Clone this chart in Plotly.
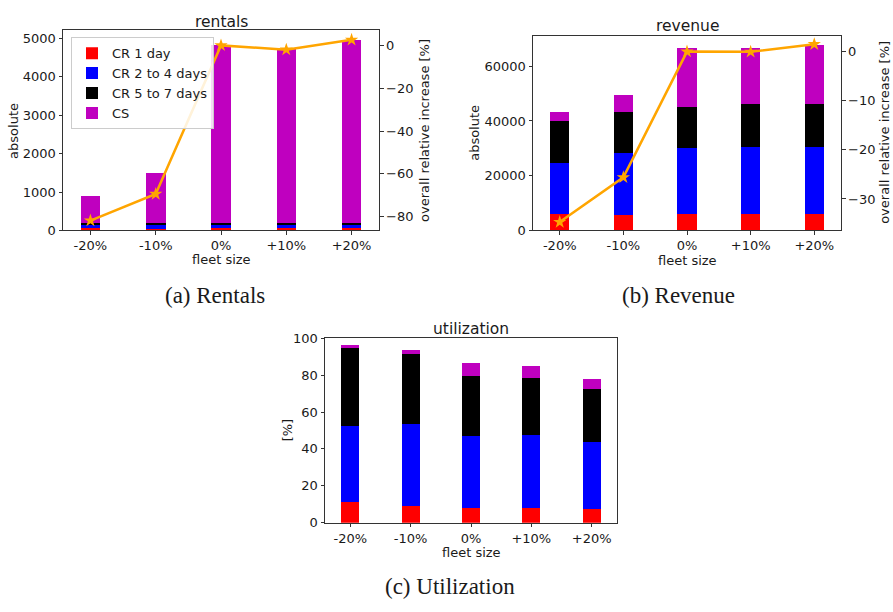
import plotly.graph_objects as go

W, H = 893, 612

categories = ["-20%", "-10%", "0%", "+10%", "+20%"]
series_names = ["CR 1 day", "CR 2 to 4 days", "CR 5 to 7 days", "CS"]
series_colors = ["#FF0000", "#0000FF", "#000000", "#BF00BF"]

# rentals (absolute)
rentals_cr1 = [40, 35, 40, 40, 40]
rentals_cr24 = [95, 100, 95, 100, 100]
rentals_cr57 = [35, 35, 35, 40, 40]
rentals_cs = [705, 1306, 4649, 4545, 4774]
rentals_rel = [-81.8, -69.4, 0.0, -2.0, 2.6]

# revenue (absolute)
revenue_cr1 = [6170, 5600, 6060, 6060, 6060]
revenue_cr24 = [18680, 22670, 24140, 24600, 24600]
revenue_cr57 = [15330, 15330, 15180, 15580, 15580]
revenue_cs = [3310, 5950, 21400, 20540, 21500]
revenue_rel = [-34.7, -25.6, 0.0, -0.05, 1.5]

# utilization [%]
util_cr1 = [10.9, 9.0, 8.1, 8.1, 7.2]
util_cr24 = [41.6, 44.4, 38.9, 39.4, 36.4]
util_cr57 = [42.0, 37.8, 32.2, 31.1, 28.5]
util_cs = [1.6, 2.1, 7.0, 6.0, 5.8]

rentals_ticks = [0, 1000, 2000, 3000, 4000, 5000]
rentals_rel_ticks = [-80, -60, -40, -20, 0]
revenue_ticks = [0, 20000, 40000, 60000]
revenue_rel_ticks = [-30, -20, -10, 0]
util_ticks = [0, 20, 40, 60, 80, 100]


def px_x(x):
    return x / W


def px_y(y):
    return 1 - y / H


fig = go.Figure()

groups = [
    ("x", "y", [rentals_cr1, rentals_cr24, rentals_cr57, rentals_cs], True),
    ("x3", "y3", [revenue_cr1, revenue_cr24, revenue_cr57, revenue_cs], False),
    ("x5", "y5", [util_cr1, util_cr24, util_cr57, util_cs], False),
]
for xa, ya, vals, show in groups:
    for name, color, v in zip(series_names, series_colors, vals):
        fig.add_trace(go.Bar(
            x=categories, y=v, name=name, marker_color=color,
            marker_line_width=0, width=0.3, xaxis=xa, yaxis=ya,
            showlegend=show, legendgroup=name,
        ))

line_style = dict(color="#FFA500", width=2.5)
marker_style = dict(symbol="star", size=10, color="#FFA500")
fig.add_trace(go.Scatter(x=categories, y=rentals_rel, mode="lines+markers",
                         line=line_style, marker=marker_style,
                         xaxis="x", yaxis="y2", showlegend=False))
fig.add_trace(go.Scatter(x=categories, y=revenue_rel, mode="lines+markers",
                         line=line_style, marker=marker_style,
                         xaxis="x3", yaxis="y4", showlegend=False))

tickfont = dict(family="DejaVu Sans", size=13, color="#1a1a1a")
axis_common = dict(showgrid=False, zeroline=False, showline=True,
                   linecolor="#333333", linewidth=1, ticks="outside",
                   ticklen=3.5, tickwidth=1, tickcolor="#333333",
                   tickfont=tickfont, fixedrange=True, tickformat="d")
xrange = [-0.42, 4.42]

fig.update_layout(
    width=W, height=H,
    margin=dict(l=0, r=0, t=0, b=0),
    paper_bgcolor="white", plot_bgcolor="white",
    barmode="stack",
    bargap=0,
    xaxis=dict(domain=[px_x(63), px_x(379)], anchor="y", range=xrange,
               mirror=True, **axis_common),
    yaxis=dict(domain=[px_y(229), px_y(24)], anchor="x", range=[0, 5210],
               tickvals=rentals_ticks, mirror=True, **axis_common),
    yaxis2=dict(overlaying="y", side="right", anchor="x", range=[-86.4, 7.0],
                tickvals=rentals_rel_ticks, **axis_common),
    xaxis3=dict(domain=[px_x(533), px_x(841)], anchor="y3", range=xrange,
                mirror=True, **axis_common),
    yaxis3=dict(domain=[px_y(229), px_y(29.3)], anchor="x3", range=[0, 71200],
                tickvals=revenue_ticks, mirror=True, **axis_common),
    yaxis4=dict(overlaying="y3", side="right", anchor="x3", range=[-36.4, 3.26],
                tickvals=revenue_rel_ticks, **axis_common),
    xaxis5=dict(domain=[px_x(325), px_x(617)], anchor="y5", range=xrange,
                mirror=True, **axis_common),
    yaxis5=dict(domain=[px_y(528.7), px_y(339.5)], anchor="x5", range=[0, 100],
                tickvals=util_ticks, mirror=True, **axis_common),
    legend=dict(x=px_x(71), y=px_y(31), xanchor="left", yanchor="top",
                bgcolor="rgba(255,255,255,0.85)", bordercolor="#cccccc",
                borderwidth=1, font=dict(family="DejaVu Sans", size=13, color="#1a1a1a"),
                tracegroupgap=0, traceorder="normal"),
)

label_font = dict(family="DejaVu Sans", size=13, color="#1a1a1a")
title_font = dict(family="DejaVu Sans", size=15.5, color="#1a1a1a")
caption_font = dict(family="Liberation Serif", size=23, color="#1a1a1a")

annots = [
    ("rentals", 221, 15, 0, title_font),
    ("revenue", 687, 19, 0, title_font),
    ("utilization", 471, 330, 0, title_font),
    ("absolute", 14, 127, -90, label_font),
    ("fleet size", 221, 259, 0, label_font),
    ("overall relative increase [%]", 425, 127, -90, label_font),
    ("absolute", 475, 129, -90, label_font),
    ("fleet size", 687, 260, 0, label_font),
    ("overall relative increase [%]", 885, 129, -90, label_font),
    ("[%]", 287, 434, -90, label_font),
    ("fleet size", 471, 559, 0, label_font),
    ("(a) Rentals", 215, 296, 0, caption_font),
    ("(b) Revenue", 678, 296, 0, caption_font),
    ("(c) Utilization", 450, 594, 0, caption_font),
]
for text, x, y, ang, font in annots:
    fig.add_annotation(text=text, x=px_x(x), y=px_y(y), xref="paper", yref="paper",
                       xanchor="center", yanchor="middle", showarrow=False,
                       textangle=ang, font=font)

fig.write_html("out.html")
